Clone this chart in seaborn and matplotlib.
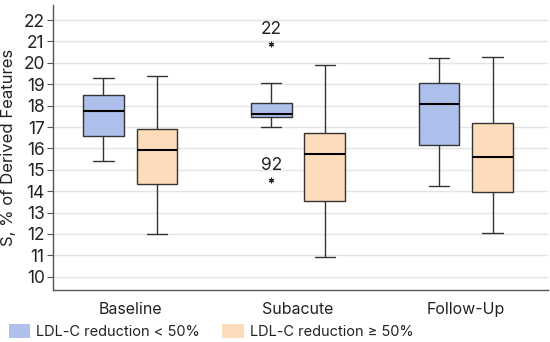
import numpy as np
import pandas as pd
import seaborn as sns
import matplotlib.pyplot as plt
from matplotlib.patches import Patch

# values
periods = ["Baseline", "Subacute", "Follow-Up"]
groups = ["LDL-C reduction < 50%", "LDL-C reduction \u2265 50%"]

low_lo = [15.43, 16.99, 14.23]
low_q1 = [16.58, 17.48, 16.14]
low_med = [17.75, 17.59, 18.06]
low_q3 = [18.50, 18.11, 19.07]
low_hi = [19.28, 19.04, 20.22]

high_lo = [12.00, 10.94, 12.05]
high_q1 = [14.32, 13.53, 13.95]
high_med = [15.93, 15.74, 15.58]
high_q3 = [16.91, 16.73, 17.20]
high_hi = [19.38, 19.88, 20.26]

# outliers of the < 50% group at Subacute (case number, value)
out_period = "Subacute"
out_ids = ["22", "92"]
out_vals = [20.86, 14.52]

blue = "#aebfeb"
orange = "#fddcbb"

rows = []
for g, stats in zip(groups, [(low_lo, low_q1, low_med, low_q3, low_hi),
                              (high_lo, high_q1, high_med, high_q3, high_hi)]):
    for i, p in enumerate(periods):
        lo, q1, md, q3, hi = [s[i] for s in stats]
        vals = [lo, q1, md, q3, hi]
        if g == groups[0] and p == out_period:
            # duplicate the quartiles so the outliers leave them unchanged
            vals = [min(out_vals), lo, q1, q1, md, q3, q3, hi, max(out_vals)]
        for v in vals:
            rows.append({"period": p, "group": g, "value": v})
df = pd.DataFrame(rows)

sns.set_style("white")
plt.rcParams["font.family"] = ["Inter", "DejaVu Sans"]

fig = plt.figure(figsize=(5.5, 3.42), dpi=100)
ax = fig.add_axes([0.0964, 0.152, 0.9, 0.833])

ax.yaxis.grid(True, color="#e4e4e4", linewidth=1)
ax.set_axisbelow(True)

sns.boxplot(data=df, x="period", y="value", hue="group", order=periods,
            hue_order=groups, palette=[blue, orange], saturation=1,
            width=0.64, gap=0.24,
            linecolor="#333333", linewidth=1, legend=False,
            medianprops={"color": "black", "linewidth": 1.5},
            flierprops={"marker": (6, 2, 0), "markersize": 4, "markeredgewidth": 0.8,
                        "markeredgecolor": "#222222", "markerfacecolor": "#222222"},
            ax=ax)

# label the outliers with their case numbers
for line in ax.lines:
    ys = np.asarray(line.get_ydata(), dtype=float)
    xs = np.asarray(line.get_xdata(), dtype=float)
    if line.get_marker() not in ("None", None, "") and len(ys) > 0:
        for x, y in zip(xs, ys):
            for lab, v in zip(out_ids, out_vals):
                if abs(y - v) < 1e-6:
                    ax.text(x, y + 0.3, lab, ha="center", va="bottom", fontsize=12.5,
                            color="#222222")

ax.set_ylim(9.38, 22.7)
ax.set_xlim(-0.46, 2.49)
ax.set_yticks(range(10, 23))
ax.set_xlabel("")
ax.set_ylabel("S, % of Derived Features", fontsize=12, color="#222222", labelpad=5)
ax.tick_params(axis="y", left=True, length=4, color="#555555", labelsize=12.5,
               labelcolor="#222222", pad=2)
ax.tick_params(axis="x", bottom=False, labelsize=11.5, labelcolor="#222222", pad=5)
sns.despine(ax=ax)
for s in ["left", "bottom"]:
    ax.spines[s].set_color("#555555")
    ax.spines[s].set_linewidth(1)

handles = [Patch(facecolor=blue, edgecolor="none"), Patch(facecolor=orange, edgecolor="none")]
fig.legend(handles, groups, loc="center left", bbox_to_anchor=(0.005, 0.03), ncol=2,
           frameon=False, fontsize=10.5, handlelength=1.5, handleheight=1.1,
           handletextpad=0.4, columnspacing=1.5, borderaxespad=0, labelcolor="#222222")

fig.savefig("out.png", dpi=100)
